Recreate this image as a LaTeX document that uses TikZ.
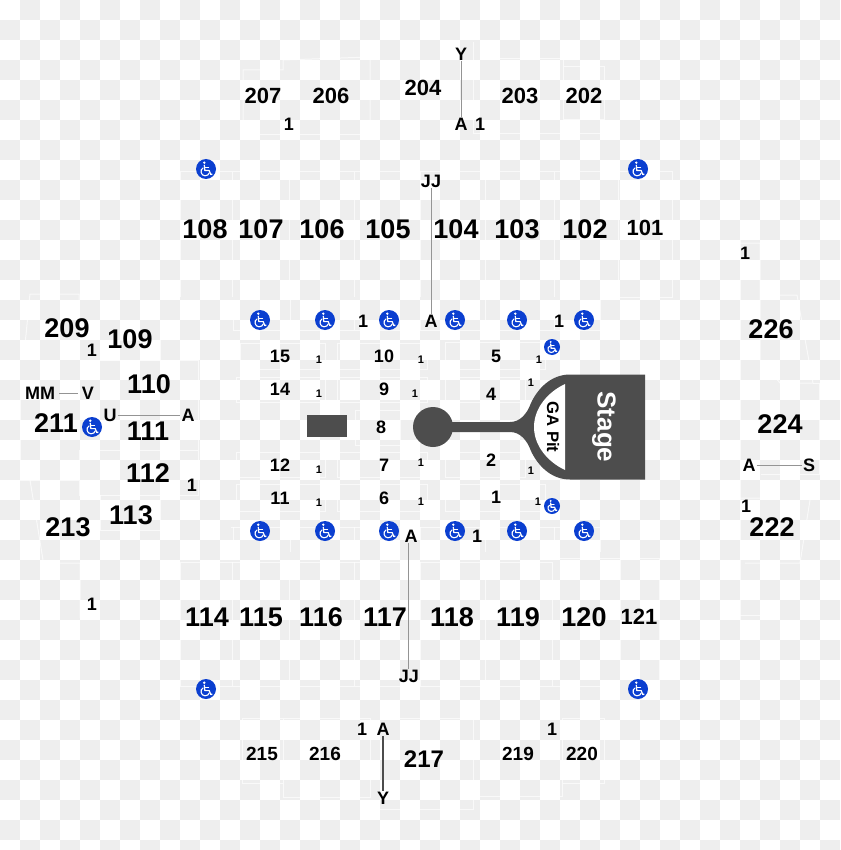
\documentclass[tikz,border=0pt]{standalone}
\usepackage{fontspec}
\setmainfont{Liberation Sans}
\definecolor{chk}{HTML}{EEEEEE}
\definecolor{stagegray}{HTML}{4D4D4D}
\definecolor{wcblue}{HTML}{0B3FD0}
\tikzset{
  big/.style={inner sep=1pt,font=\bfseries\fontsize{27}{27}\selectfont},
  lrg/.style={inner sep=1pt,font=\bfseries\fontsize{24}{24}\selectfont},
  mid/.style={inner sep=1pt,font=\bfseries\fontsize{22}{22}\selectfont},
  smal/.style={inner sep=1pt,font=\bfseries\fontsize{19}{19}\selectfont},
  rowl/.style={inner sep=1pt,font=\bfseries\fontsize{18}{18}\selectfont},
  seat/.style={inner sep=1pt,font=\bfseries\fontsize{18}{18}\selectfont},
  tiny1/.style={inner sep=1pt,font=\bfseries\fontsize{11}{11}\selectfont},
  conn/.style={draw=black!42,line width=1pt},
  outl/.style={draw=white,line width=1pt,opacity=.65},
  wheel/.pic={
    \fill[wcblue] (0,0) circle (10);
    \fill[white] (-1.7,-6.3) circle (1.35);
    \draw[white,line width=1.2pt,line join=round,line cap=round]
      (-1.7,-3.8) -- (-1.2,1.6) -- (3.2,1.6) -- (4.8,5.6) -- (6,5.2);
    \draw[white,line width=1.1pt,line cap=round] (-1.5,-1.4) -- (2.6,-1.4);
    \draw[white,line width=1.1pt,line cap=round]
      (-3,-1) .. controls (-6.4,0.6) and (-5.2,6.8) .. (-1,6.8) .. controls (1.2,6.8) and (2.8,5.6) .. (3.2,4);
  }
}
\begin{document}
\begin{tikzpicture}[x=1pt,y=-1pt]
\useasboundingbox (0,0) rectangle (840,850);
\fill[white] (0,0) rectangle (840,850);
% checkerboard
\foreach \i in {0,...,41}{\foreach \j in {0,...,42}{
  \ifodd\numexpr\i+\j\relax
    \fill[chk] ({\i*20},{\j*20}) rectangle ++(20,20);
  \fi}}
% section outlines: upper tier top
\draw[outl] (243,120) -- (243,70) -- (283,70) -- (283,60) -- (370,57) -- (370,120);
\draw[outl] (260,135) -- (370,135);
\draw[outl] (473,134) -- (473,42) (483,59) -- (560,59) (473,134) -- (600,134);
\draw[outl] (563,59) -- (563,120) -- (604,120) -- (604,67) -- (563,67);
% lower tier 100 top row
\draw[outl] (180,297) -- (180,172) -- (672,172) -- (672,297) -- (618,297) -- (618,172);
\foreach \d in {232,289,354,420,485,554}{\draw[outl] (\d,172) -- (\d,297);}
% lower tier 100 bottom row
\draw[outl] (180,562) -- (180,686) -- (620,686) (180,562) -- (552,562);
\foreach \d in {232,289,354,420,485,552}{\draw[outl] (\d,562) -- (\d,686);}
\draw[outl] (552,558) -- (659,558) -- (659,680) (620,558) -- (620,680);
% bottom 200 tier
\draw[outl] (283,718) -- (242,718) -- (242,783) -- (283,783);
\draw[outl] (283,718) -- (283,797) -- (370,797) -- (370,718) -- (283,718);
\draw[outl] (380,718) -- (473,718) -- (473,809) -- (380,809);
\draw[outl] (480,796) -- (562,796) -- (562,718) -- (604,718) -- (604,783) -- (562,783);
% floor boxes
\foreach \xa/\xb/\ya/\yb in {240/325/343/369,236/325/377/402,236/325/452/477,236/325/484/511,
   337/427/343/369,337/427/377/402,337/427/452/477,337/427/484/511,
   355/400/410/445,445/545/342/369,445/525/377/402,445/525/452/477,445/545/484/511}{
  \draw[outl] (\xa,\ya) rectangle (\xb,\yb);}
\draw[outl] (233,330) -- (600,330) (231,527) -- (600,527);
\foreach \d in {233,290,354,420,485,554,600}{\draw[outl] (\d,300) -- (\d,330);\draw[outl] (\d,527) -- (\d,552);}
% left side
\draw[outl] (79,360) -- (79,294) -- (30,294) .. controls (27,320) and (26,345) .. (22,360);
\draw[outl] (100,340) -- (160,340) -- (160,360) -- (100,360) -- (100,340);
\draw[outl] (198,360) -- (198,495) -- (79,495) -- (79,450);
\draw[outl] (100,360) -- (198,360) (100,450) -- (198,450);
\draw[outl] (100,495) -- (100,530) -- (160,530) -- (160,495);
\draw[outl] (30,480) -- (43,560) (60,563) -- (80,563) -- (80,618);
\draw[outl] (20,400) -- (20,480) -- (79,480);
% right side
\draw[outl] (740,240) -- (740,620);
\draw[outl] (740,243) -- (760,243) -- (760,360) -- (780,383) -- (813,383) -- (797,295) -- (780,295);
\draw[outl] (813,383) -- (819,383) -- (819,474) -- (761,474);
\draw[outl] (740,498) -- (760,498) (810,500) -- (800,563) -- (745,563);
\draw[outl] (740,615) -- (760,615);
% stage
\fill[stagegray] (645,374.5) -- (570,374.5) .. controls (550,374.5) and (537,390) .. (531,403)
   .. controls (527,414) and (520,422) .. (510,422) -- (445,422) -- (445,432) -- (510,432)
   .. controls (520,432) and (527,440) .. (531,451) .. controls (537,464) and (550,479.5) .. (570,479.5)
   -- (645,479.5) -- cycle;
\fill[white] (565,384) .. controls (548,392) and (534,408) .. (534,427)
   .. controls (534,446) and (548,462) .. (565,470) -- cycle;
\fill[stagegray] (433,427) circle (20);
\fill[stagegray] (307,415) rectangle (347,437);
\node[inner sep=0pt,text=white,rotate=-90,font=\bfseries\fontsize{26}{26}\selectfont] (stagelbl) at (604,427) {Stage};
\node[inner sep=0pt,rotate=-90,font=\bfseries\fontsize{16.7}{16.7}\selectfont] (gapit) at (553,427) {GA Pit};
% wheelchair icons
\foreach \x/\y in {206/169,638/169,260/320,325/320,389/320,455/320,517/320,584/320,
   260/531,325/531,389/531,455/531,517/531,584/531,206/689,638/689,92/427}{
  \pic at (\x,\y) {wheel};}
\foreach \x/\y in {552/347,552/506}{\pic[scale=.8] at (\x,\y) {wheel};}
% section labels
\foreach \x/\y/\t in {205/229/108,261/229/107,322/229/106,388/229/105,456/229/104,517/229/103,585/229/102,
  207/617/114,261/617/115,321/617/116,385/617/117,452/617/118,518/617/119,584/617/120,
  67/328/209,130/339/109,149/384/110,148/431/111,148/473/112,131/515/113,56/423/211,68/527/213,
  771/329/226,780/424/224,772/527/222}{
  \node[big] (s\t) at (\x,\y) {\t};}
\node[lrg] (s217) at (424,759) {217};
\foreach \x/\y/\t in {645/228/101,639/617/121,263/96/207,331/96/206,423/88/204,520/96/203,584/96/202}{
  \node[mid] (s\t) at (\x,\y) {\t};}
\foreach \x/\y/\t in {262/754/215,325/754/216,518/754/219,582/754/220}{
  \node[smal] (s\t) at (\x,\y) {\t};}
\foreach \x/\y/\t in {280/356/15,280/389/14,280/465/12,280/498/11,384/356/10,384/389/9,381/427/8,384/465/7,384/498/6,
  496/356/5,491/394/4,491/460/2,496/497/1}{
  \node[rowl] (f\t) at (\x,\y) {\t};}
% row and seat labels
\foreach \x/\y in {319/360,319/394,319/470,319/503,421/360,415/394,421/463,421/502,539/360,531/383,531/471,538/502}{
  \node[tiny1] (t\x-\y) at (\x,\y) {1};}
\foreach \x/\y in {92/350,192/485,92/604,289/124,480/124,363/321,559/321,745/253,746/506,477/536,362/729,552/729}{
  \node[seat] (q\x-\y) at (\x,\y) {1};}
\node[rowl,inner sep=4pt] (mm) at (40,393) {MM};
\node[rowl,inner sep=4pt] (v) at (88,393) {V};
\node[rowl] (u) at (110,415) {U};
\node[rowl] (aL) at (188,415) {A};
\node[rowl] (yT) at (461,54) {Y};
\node[rowl] (aT) at (461,124) {A};
\node[rowl] (jjT) at (431,181) {JJ};
\node[rowl] (aM) at (431,321) {A};
\node[rowl] (aR) at (749,465) {A};
\node[rowl] (sR) at (809,465) {S};
\node[rowl] (aB) at (411,536) {A};
\node[rowl] (jjB) at (408.8,676) {JJ};
\node[rowl] (aD) at (383,729) {A};
\node[rowl] (yD) at (383,798) {Y};
% connectors
\draw[conn] (mm) -- (v);
\draw[conn] (u) -- (aL);
\draw[conn] (yT) -- (aT);
\draw[conn] (jjT) -- (aM);
\draw[conn] (aR) -- (sR);
\draw[conn] (aB.south -| jjB.north) -- (jjB.north);
\draw[draw=black!70,line width=1.3pt] (aD) -- (yD);
\end{tikzpicture}
\end{document}
